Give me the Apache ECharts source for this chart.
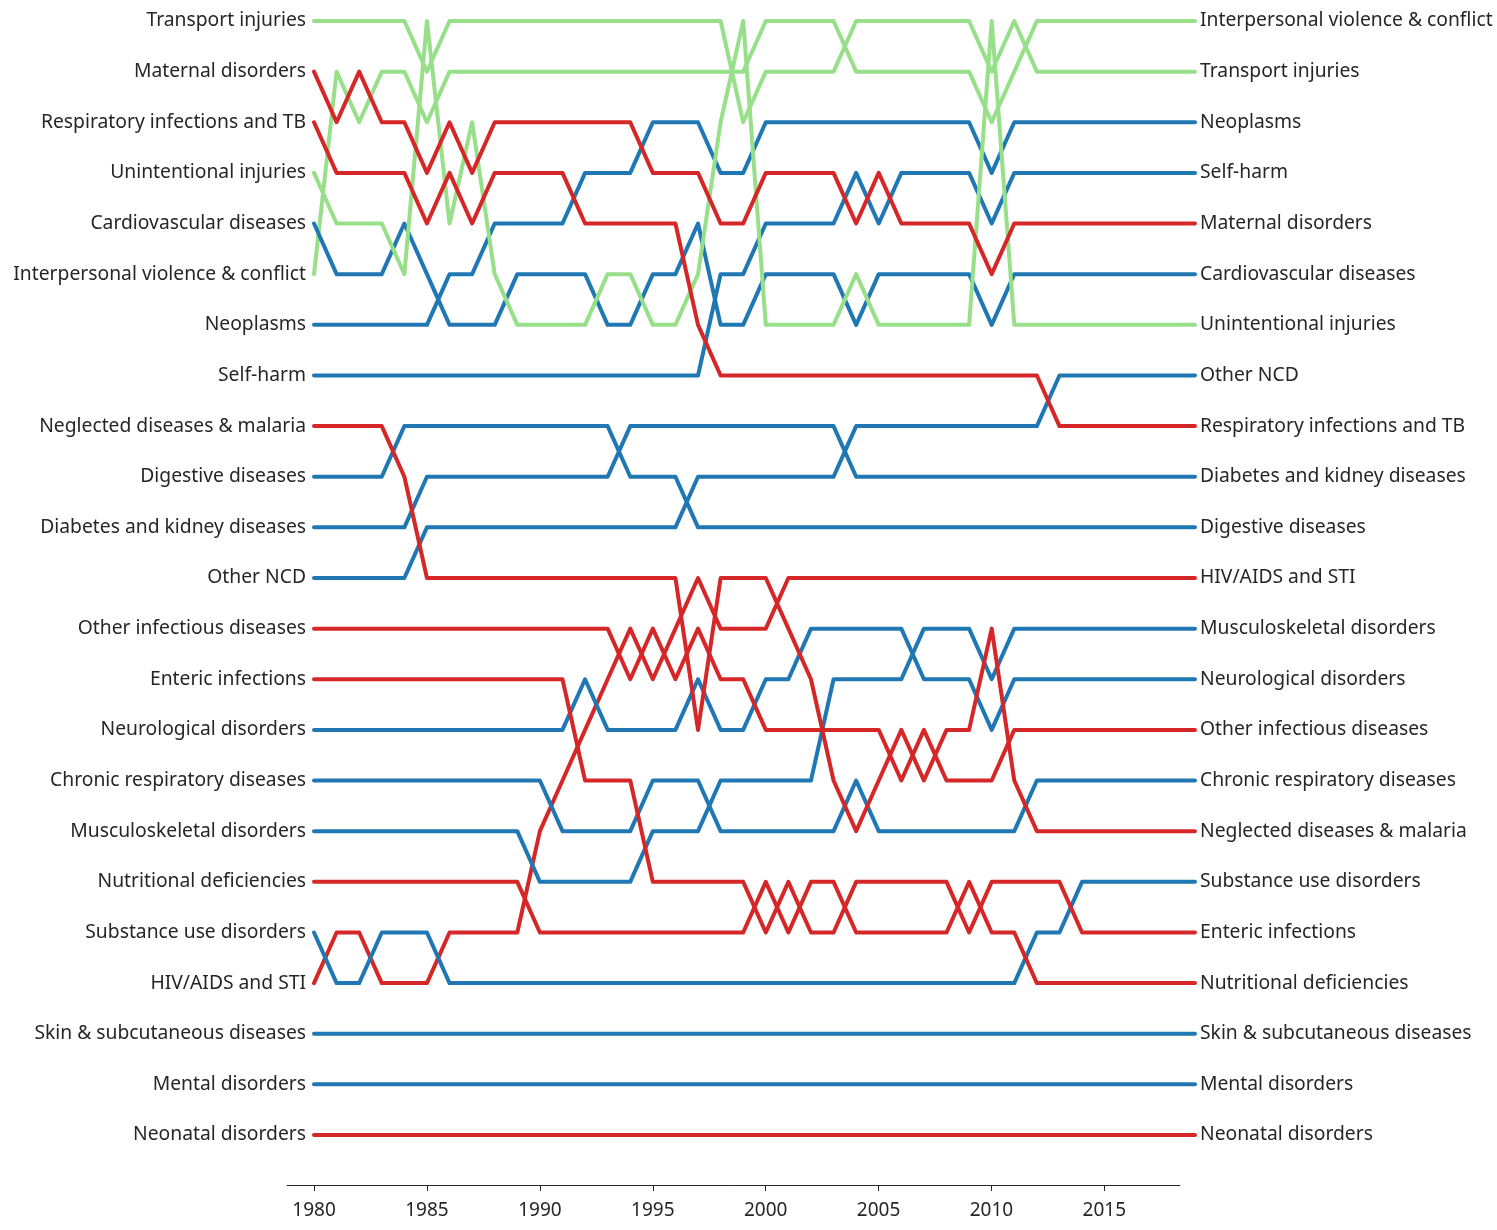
<!DOCTYPE html>
<html>
<head>
<meta charset="utf-8">
<script src="https://cdn.jsdelivr.net/npm/echarts@6/dist/echarts.min.js"></script>
<style>
  html, body { margin: 0; padding: 0; background: #fff; }
  #chart { width: 1497px; height: 1230px; }
</style>
</head>
<body>
<div id="chart"></div>
<script>
// years on the x axis
const years = [];
for (let y = 1980; y <= 2019; y++) years.push(y);

const tickYears = [1980, 1985, 1990, 1995, 2000, 2005, 2010, 2015];

// rank per year (1980..2019)
const transportInjuries = [1,1,1,1,1,2,1,1,1,1,1,1,1,1,1,1,1,1,1,3,2,2,2,2,1,1,1,1,1,1,2,1,2,2,2,2,2,2,2,2];
const interpersonalViolence = [6,2,3,2,2,3,2,2,2,2,2,2,2,2,2,2,2,2,2,2,1,1,1,1,2,2,2,2,2,2,3,2,1,1,1,1,1,1,1,1];
const unintentionalInjuries = [4,5,5,5,6,1,5,3,6,7,7,7,7,6,6,7,7,6,3,1,7,7,7,7,6,7,7,7,7,7,1,7,7,7,7,7,7,7,7,7];
const maternalDisorders = [2,3,2,3,3,4,3,4,3,3,3,3,3,3,3,4,4,4,5,5,4,4,4,4,5,4,5,5,5,5,6,5,5,5,5,5,5,5,5,5];
const respiratoryInfections = [3,4,4,4,4,5,4,5,4,4,4,4,5,5,5,5,5,7,8,8,8,8,8,8,8,8,8,8,8,8,8,8,8,9,9,9,9,9,9,9];
const cardiovascular = [5,6,6,6,5,6,7,7,7,6,6,6,6,7,7,6,6,5,7,7,6,6,6,6,7,6,6,6,6,6,7,6,6,6,6,6,6,6,6,6];
const neoplasms = [7,7,7,7,7,7,6,6,5,5,5,5,4,4,4,3,3,3,4,4,3,3,3,3,3,3,3,3,3,3,4,3,3,3,3,3,3,3,3,3];
const selfHarm = [8,8,8,8,8,8,8,8,8,8,8,8,8,8,8,8,8,8,6,6,5,5,5,5,4,5,4,4,4,4,5,4,4,4,4,4,4,4,4,4];
const neglectedDiseases = [9,9,9,9,10,12,12,12,12,12,12,12,12,12,12,12,12,15,12,12,12,13,14,16,17,16,15,16,15,15,13,16,17,17,17,17,17,17,17,17];
const digestiveDiseases = [10,10,10,10,9,9,9,9,9,9,9,9,9,9,10,10,10,11,11,11,11,11,11,11,11,11,11,11,11,11,11,11,11,11,11,11,11,11,11,11];
const diabetesKidney = [11,11,11,11,11,10,10,10,10,10,10,10,10,10,9,9,9,9,9,9,9,9,9,9,10,10,10,10,10,10,10,10,10,10,10,10,10,10,10,10];
const otherNcd = [12,12,12,12,12,11,11,11,11,11,11,11,11,11,11,11,11,10,10,10,10,10,10,10,9,9,9,9,9,9,9,9,9,8,8,8,8,8,8,8];
const otherInfectious = [13,13,13,13,13,13,13,13,13,13,13,13,13,13,14,13,14,13,14,14,15,15,15,15,15,15,16,15,16,16,16,15,15,15,15,15,15,15,15,15];
const entericInfections = [14,14,14,14,14,14,14,14,14,14,14,14,16,16,16,18,18,18,18,18,19,18,19,19,18,18,18,18,18,19,18,18,18,18,19,19,19,19,19,19];
const neurological = [15,15,15,15,15,15,15,15,15,15,15,15,14,15,15,15,15,14,15,15,14,14,13,13,13,13,13,14,14,14,15,14,14,14,14,14,14,14,14,14];
const chronicRespiratory = [16,16,16,16,16,16,16,16,16,16,16,17,17,17,17,16,16,16,17,17,17,17,17,17,16,17,17,17,17,17,17,17,16,16,16,16,16,16,16,16];
const musculoskeletal = [17,17,17,17,17,17,17,17,17,17,18,18,18,18,18,17,17,17,16,16,16,16,16,14,14,14,14,13,13,13,14,13,13,13,13,13,13,13,13,13];
const nutritionalDeficiencies = [18,18,18,18,18,18,18,18,18,18,19,19,19,19,19,19,19,19,19,19,18,19,18,18,19,19,19,19,19,18,19,19,20,20,20,20,20,20,20,20];
const substanceUse = [19,20,20,19,19,19,20,20,20,20,20,20,20,20,20,20,20,20,20,20,20,20,20,20,20,20,20,20,20,20,20,20,19,19,18,18,18,18,18,18];
const hivAids = [20,19,19,20,20,20,19,19,19,19,17,16,15,14,13,14,13,12,13,13,13,12,12,12,12,12,12,12,12,12,12,12,12,12,12,12,12,12,12,12];
const skinDiseases = new Array(40).fill(21);
const mentalDisorders = new Array(40).fill(22);
const neonatalDisorders = new Array(40).fill(23);

const GREEN = '#98df8a';
const RED = '#d62728';
const BLUE = '#1f77b4';

const causes = [
    { name: 'Transport injuries', ranks: transportInjuries, color: GREEN },
    { name: 'Maternal disorders', ranks: maternalDisorders, color: RED },
    { name: 'Respiratory infections and TB', ranks: respiratoryInfections, color: RED },
    { name: 'Unintentional injuries', ranks: unintentionalInjuries, color: GREEN },
    { name: 'Cardiovascular diseases', ranks: cardiovascular, color: BLUE },
    { name: 'Interpersonal violence & conflict', ranks: interpersonalViolence, color: GREEN },
    { name: 'Neoplasms', ranks: neoplasms, color: BLUE },
    { name: 'Self-harm', ranks: selfHarm, color: BLUE },
    { name: 'Neglected diseases & malaria', ranks: neglectedDiseases, color: RED },
    { name: 'Digestive diseases', ranks: digestiveDiseases, color: BLUE },
    { name: 'Diabetes and kidney diseases', ranks: diabetesKidney, color: BLUE },
    { name: 'Other NCD', ranks: otherNcd, color: BLUE },
    { name: 'Other infectious diseases', ranks: otherInfectious, color: RED },
    { name: 'Enteric infections', ranks: entericInfections, color: RED },
    { name: 'Neurological disorders', ranks: neurological, color: BLUE },
    { name: 'Chronic respiratory diseases', ranks: chronicRespiratory, color: BLUE },
    { name: 'Musculoskeletal disorders', ranks: musculoskeletal, color: BLUE },
    { name: 'Nutritional deficiencies', ranks: nutritionalDeficiencies, color: RED },
    { name: 'Substance use disorders', ranks: substanceUse, color: BLUE },
    { name: 'HIV/AIDS and STI', ranks: hivAids, color: RED },
    { name: 'Skin & subcutaneous diseases', ranks: skinDiseases, color: BLUE },
    { name: 'Mental disorders', ranks: mentalDisorders, color: BLUE },
    { name: 'Neonatal disorders', ranks: neonatalDisorders, color: RED }
];

// label at rank r on each side = cause holding that rank in the first / last year
function labelsAt(idx) {
    const out = [];
    causes.forEach(c => { out[c.ranks[idx] - 1] = c.name; });
    return out;
}
const leftLabels = labelsAt(0);
const rightLabels = labelsAt(years.length - 1);

const chart = echarts.init(document.getElementById('chart'), null, { renderer: 'canvas' });

const labelFont = {
    fontFamily: 'Noto Sans',
    fontSize: 19.3,
    color: '#262626',
    padding: [3, 0, 0, 0]
};

const option = {
    animation: false,
    backgroundColor: '#fff',
    grid: [
        { left: 314, right: 302, top: 21, bottom: 95 },
        { left: 287, right: 317, top: 1183, height: 2 }
    ],
    xAxis: [
        {
            gridIndex: 0,
            type: 'value',
            min: 1980,
            max: 2019,
            show: false
        },
        {
            gridIndex: 1,
            type: 'value',
            min: 1978.8,
            max: 2018.35,
            position: 'bottom',
            axisLine: { show: true, lineStyle: { color: '#262626', width: 1 } },
            axisTick: { show: true, length: 6, lineStyle: { color: '#262626' }, customValues: tickYears },
            axisLabel: {
                customValues: tickYears,
                formatter: v => String(v),
                margin: 16,
                fontFamily: 'Noto Sans',
                fontSize: 19,
                color: '#262626'
            },
            splitLine: { show: false }
        }
    ],
    yAxis: [
        {
            gridIndex: 0,
            type: 'value',
            inverse: true,
            min: 1,
            max: 23,
            interval: 1,
            position: 'left',
            axisLine: { show: false },
            axisTick: { show: false },
            splitLine: { show: false },
            axisLabel: Object.assign({
                margin: 8,
                formatter: v => leftLabels[v - 1] || ''
            }, labelFont)
        },
        {
            gridIndex: 0,
            type: 'value',
            inverse: true,
            min: 1,
            max: 23,
            interval: 1,
            position: 'right',
            axisLine: { show: false },
            axisTick: { show: false },
            splitLine: { show: false },
            axisLabel: Object.assign({
                margin: 5,
                formatter: v => rightLabels[v - 1] || ''
            }, labelFont)
        },
        {
            gridIndex: 1,
            type: 'value',
            show: false
        }
    ],
    series: causes.map(c => ({
        name: c.name,
        type: 'line',
        xAxisIndex: 0,
        yAxisIndex: 0,
        data: c.ranks.map((r, i) => [years[i], r]),
        showSymbol: false,
        symbol: 'none',
        silent: true,
        lineStyle: { color: c.color, width: 4, cap: 'round', join: 'round' }
    })).reverse()
};

chart.setOption(option);
</script>
</body>
</html>
